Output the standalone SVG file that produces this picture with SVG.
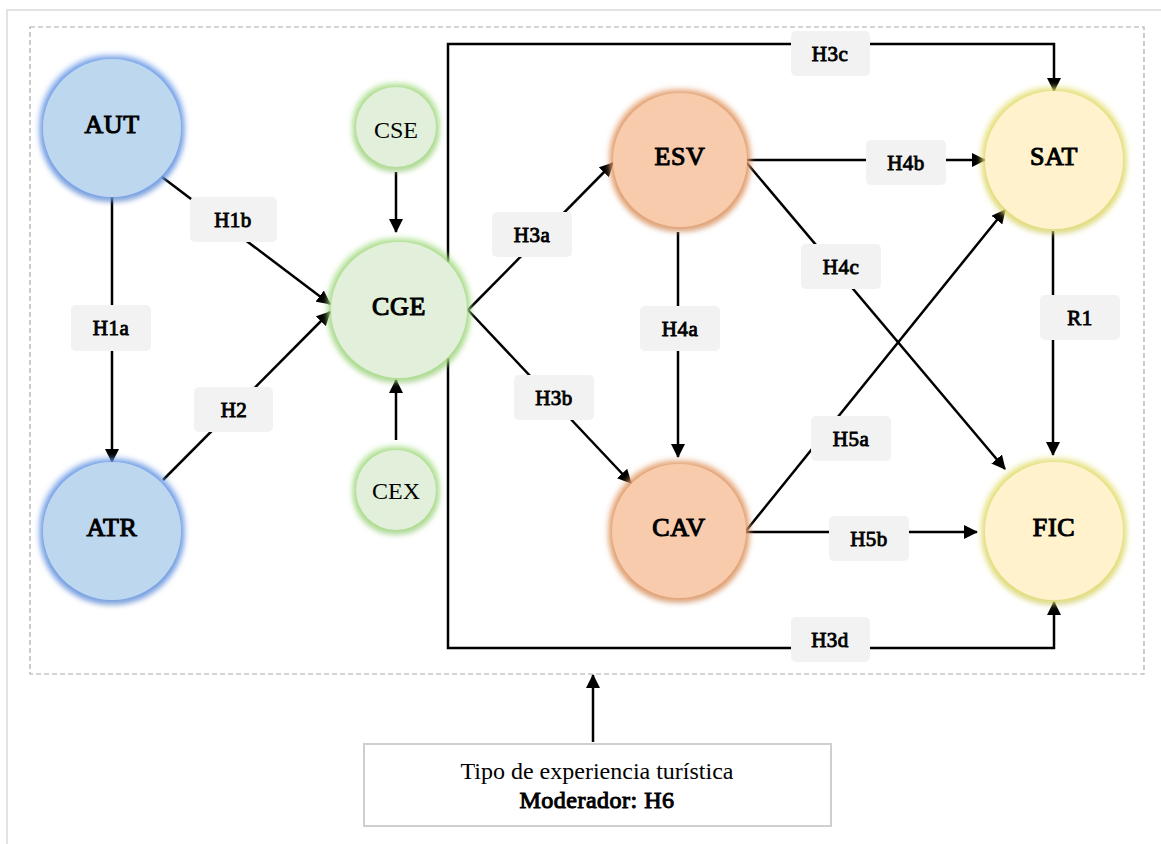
<svg xmlns="http://www.w3.org/2000/svg" width="1161" height="844" viewBox="0 0 1161 844">
<style>
  text { font-family: "Liberation Serif", "Times New Roman", serif; fill: #000; text-anchor: middle; font-weight: normal; }
  .node { font-size: 26px; stroke: #000; stroke-width: 1.1; letter-spacing: 0.6px; }
  .small { font-size: 24px; }
  .bold24 { font-size: 24px; stroke: #000; stroke-width: 1; letter-spacing: 0.5px; }
  .lbl { font-size: 21px; stroke: #000; stroke-width: 0.9; letter-spacing: 0.5px; }
  .box { fill: #f2f2f2; stroke: none; }
  .edge { fill: none; stroke: #000; stroke-width: 2.5; }
  .arr { marker-end: url(#ah); }
  .blue { fill: #bdd7ee; filter: url(#glowB); }
  .green { fill: #e2efda; filter: url(#glowG); }
  .orange { fill: #f8cbad; filter: url(#glowO); }
  .yellow { fill: #fff2cc; filter: url(#glowY); }
</style>
<defs>
  <marker id="ah" viewBox="0 0 14 14" refX="13" refY="7" markerWidth="14" markerHeight="14" markerUnits="userSpaceOnUse" orient="auto">
    <path d="M0,0 L14,7 L0,14 z" fill="#000"/>
  </marker>
  <filter id="glowB" x="-25%" y="-25%" width="150%" height="150%">
    <feMorphology in="SourceAlpha" operator="dilate" radius="3" result="d"/>
    <feGaussianBlur in="d" stdDeviation="3" result="b"/>
    <feFlood flood-color="#6d9be6"/>
    <feComposite in2="b" operator="in" result="g"/>
    <feGaussianBlur in="SourceAlpha" stdDeviation="3" result="s"/>
    <feOffset in="s" dy="4" result="so"/>
    <feFlood flood-color="#000" flood-opacity="0.35"/>
    <feComposite in2="so" operator="in" result="sh"/>
    <feMerge><feMergeNode in="sh"/><feMergeNode in="g"/><feMergeNode in="SourceGraphic"/></feMerge>
  </filter>
  <filter id="glowG" x="-25%" y="-25%" width="150%" height="150%">
    <feMorphology in="SourceAlpha" operator="dilate" radius="3" result="d"/>
    <feGaussianBlur in="d" stdDeviation="3" result="b"/>
    <feFlood flood-color="#a6dc85"/>
    <feComposite in2="b" operator="in" result="g"/>
    <feGaussianBlur in="SourceAlpha" stdDeviation="3" result="s"/>
    <feOffset in="s" dy="4" result="so"/>
    <feFlood flood-color="#000" flood-opacity="0.3"/>
    <feComposite in2="so" operator="in" result="sh"/>
    <feMerge><feMergeNode in="sh"/><feMergeNode in="g"/><feMergeNode in="SourceGraphic"/></feMerge>
  </filter>
  <filter id="glowO" x="-25%" y="-25%" width="150%" height="150%">
    <feMorphology in="SourceAlpha" operator="dilate" radius="3" result="d"/>
    <feGaussianBlur in="d" stdDeviation="3" result="b"/>
    <feFlood flood-color="#e29a66"/>
    <feComposite in2="b" operator="in" result="g"/>
    <feGaussianBlur in="SourceAlpha" stdDeviation="3" result="s"/>
    <feOffset in="s" dy="4" result="so"/>
    <feFlood flood-color="#000" flood-opacity="0.3"/>
    <feComposite in2="so" operator="in" result="sh"/>
    <feMerge><feMergeNode in="sh"/><feMergeNode in="g"/><feMergeNode in="SourceGraphic"/></feMerge>
  </filter>
  <filter id="glowY" x="-25%" y="-25%" width="150%" height="150%">
    <feMorphology in="SourceAlpha" operator="dilate" radius="3" result="d"/>
    <feGaussianBlur in="d" stdDeviation="3" result="b"/>
    <feFlood flood-color="#e3de70"/>
    <feComposite in2="b" operator="in" result="g"/>
    <feGaussianBlur in="SourceAlpha" stdDeviation="3" result="s"/>
    <feOffset in="s" dy="4" result="so"/>
    <feFlood flood-color="#000" flood-opacity="0.3"/>
    <feComposite in2="so" operator="in" result="sh"/>
    <feMerge><feMergeNode in="sh"/><feMergeNode in="g"/><feMergeNode in="SourceGraphic"/></feMerge>
  </filter>
</defs>

<rect x="0" y="0" width="1161" height="844" fill="#fff"/>
<rect x="7" y="10" width="1170" height="850" fill="none" stroke="#e2e2e2" stroke-width="2"/>
<rect id="frame" x="30" y="27" width="1114" height="647" fill="none" stroke="#aaa" stroke-width="1.2" stroke-dasharray="5,3"/>

<g id="connectors">
  <line class="edge arr" x1="112" y1="197" x2="112" y2="462"/>
  <line class="edge arr" x1="162" y1="177" x2="330" y2="304"/>
  <line class="edge arr" x1="163" y1="480" x2="330" y2="312"/>
  <line class="edge arr" x1="396" y1="172" x2="396" y2="232"/>
  <line class="edge arr" x1="396" y1="440" x2="396" y2="380"/>
  <line class="edge arr" x1="468" y1="310" x2="613" y2="163"/>
  <line class="edge arr" x1="468" y1="310" x2="631" y2="483"/>
  <path class="edge arr" d="M448,262 V44 H1054 V91"/>
  <path class="edge arr" d="M448,358 V648 H1054 V602"/>
  <line class="edge arr" x1="746" y1="160" x2="985" y2="160"/>
  <line class="edge arr" x1="746" y1="162" x2="1005" y2="469"/>
  <line class="edge arr" x1="678" y1="232" x2="678" y2="457"/>
  <line class="edge arr" x1="745" y1="532" x2="1005" y2="210"/>
  <line class="edge arr" x1="745" y1="532" x2="977" y2="532"/>
  <line class="edge arr" x1="1053" y1="231" x2="1053" y2="455"/>
  <line class="edge arr" x1="593" y1="742" x2="593" y2="675"/>
</g>

<g id="labels">
  <g id="lbl-H1b"><rect class="box" x="190" y="197" width="87" height="45" rx="5"/><text class="lbl" x="233" y="227">H1b</text></g>
  <g id="lbl-H1a"><rect class="box" x="71" y="305" width="80" height="46" rx="5"/><text class="lbl" x="111" y="335">H1a</text></g>
  <g id="lbl-H2"><rect class="box" x="194" y="387" width="79" height="45" rx="5"/><text class="lbl" x="234" y="417">H2</text></g>
  <g id="lbl-H3a"><rect class="box" x="492" y="212" width="80" height="45" rx="5"/><text class="lbl" x="532" y="242">H3a</text></g>
  <g id="lbl-H3b"><rect class="box" x="514" y="375" width="80" height="45" rx="5"/><text class="lbl" x="554" y="405">H3b</text></g>
  <g id="lbl-H3c"><rect class="box" x="791" y="31" width="79" height="45" rx="5"/><text class="lbl" x="830" y="61">H3c</text></g>
  <g id="lbl-H3d"><rect class="box" x="791" y="617" width="79" height="45" rx="5"/><text class="lbl" x="830" y="647">H3d</text></g>
  <g id="lbl-H4a"><rect class="box" x="640" y="306" width="80" height="45" rx="5"/><text class="lbl" x="680" y="336">H4a</text></g>
  <g id="lbl-H4b"><rect class="box" x="866" y="140" width="80" height="45" rx="5"/><text class="lbl" x="906" y="170">H4b</text></g>
  <g id="lbl-H4c"><rect class="box" x="801" y="244" width="80" height="45" rx="5"/><text class="lbl" x="841" y="274">H4c</text></g>
  <g id="lbl-H5a"><rect class="box" x="811" y="416" width="80" height="45" rx="5"/><text class="lbl" x="851" y="446">H5a</text></g>
  <g id="lbl-H5b"><rect class="box" x="829" y="516" width="80" height="45" rx="5"/><text class="lbl" x="869" y="546">H5b</text></g>
  <g id="lbl-R1"><rect class="box" x="1040" y="295" width="80" height="45" rx="5"/><text class="lbl" x="1080" y="325">R1</text></g>
</g>

<g id="AUT"><circle class="blue" cx="112" cy="128" r="69"/><text class="node" x="112" y="133">AUT</text></g>
<g id="ATR"><circle class="blue" cx="112" cy="531" r="69"/><text class="node" x="112" y="536">ATR</text></g>
<g id="CSE"><circle class="green" cx="396" cy="127" r="40"/><text class="small" x="396" y="138">CSE</text></g>
<g id="CGE"><circle class="green" cx="399" cy="310" r="68"/><text class="node" x="399" y="315">CGE</text></g>
<g id="CEX"><circle class="green" cx="396" cy="490" r="40"/><text class="small" x="396" y="499">CEX</text></g>
<g id="ESV"><circle class="orange" cx="680" cy="160" r="67"/><text class="node" x="680" y="165">ESV</text></g>
<g id="CAV"><circle class="orange" cx="679" cy="531" r="67"/><text class="node" x="679" y="536">CAV</text></g>
<g id="SAT"><circle class="yellow" cx="1054" cy="160" r="69"/><text class="node" x="1054" y="165">SAT</text></g>
<g id="FIC"><circle class="yellow" cx="1054" cy="531" r="69"/><text class="node" x="1054" y="536">FIC</text></g>

<g id="moderator">
  <rect x="364" y="744" width="467" height="82" fill="#fff" stroke="#cfcfcf" stroke-width="2"/>
  <text class="small" x="597" y="779">Tipo de experiencia turística</text>
  <text class="bold24" x="597" y="808">Moderador: H6</text>
</g>
</svg>
